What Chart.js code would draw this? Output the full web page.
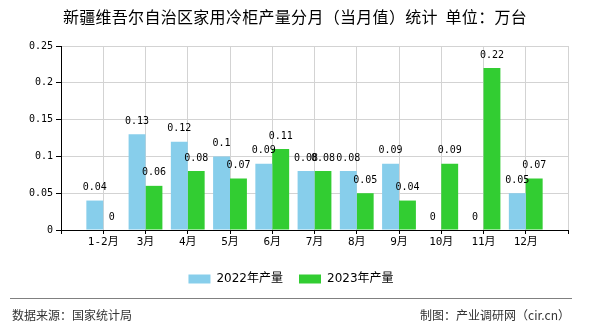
<!DOCTYPE html>
<html>
<head>
<meta charset="utf-8">
<script src="https://cdn.jsdelivr.net/npm/chart.js@4.4.0/dist/chart.umd.min.js"></script>
<style>
  body { margin: 0; background: #fff; }
  #wrap { position: relative; width: 590px; height: 330px; font-family: "Noto Sans CJK SC", sans-serif; }
  #title { position: absolute; left: 0; top: 5px; width: 590px; text-align: center; font-size: 16px; letter-spacing: 0.3px; line-height: 22px; color: #000; }
  #rule { position: absolute; left: 10px; top: 298px; width: 562px; border-top: 1px solid #808080; }
  .foot { position: absolute; top: 306px; font-size: 12px; line-height: 18px; color: #333; }
  #src { left: 12px; }
  #by { right: 20px; }
  canvas { position: absolute; left: 0; top: 0; }
</style>
</head>
<body>
<div id="wrap">
  <canvas id="myChart" width="590" height="330"></canvas>
  <div id="title">新疆维吾尔自治区家用冷柜产量分月（当月值）统计&nbsp;&nbsp;单位：万台</div>
  <div id="rule"></div>
  <div class="foot" id="src">数据来源：国家统计局</div>
  <div class="foot" id="by">制图：产业调研网（cir.cn）</div>
</div>
<script>
// данные
const months = ['1-2月', '3月', '4月', '5月', '6月', '7月', '8月', '9月', '10月', '11月', '12月'];
const values2022 = [0.04, 0.13, 0.12, 0.1, 0.09, 0.08, 0.08, 0.09, 0, 0, 0.05];
const values2023 = [0, 0.06, 0.08, 0.07, 0.11, 0.08, 0.05, 0.04, 0.09, 0.22, 0.07];
const yTicks = [0, 0.05, 0.1, 0.15, 0.2, 0.25];

// пустые места по краям оси
const labels = [''].concat(months, ['']);
const pad = arr => [null].concat(arr, [null]);

const monoFont = '"DejaVu Sans Mono", "Noto Sans CJK SC", monospace';

// подписи над столбиками
const barLabels = {
  id: 'barLabels',
  afterDatasetsDraw(chart) {
    const ctx = chart.ctx;
    ctx.save();
    ctx.font = '10px ' + monoFont;
    ctx.fillStyle = '#000';
    ctx.textAlign = 'center';
    ctx.textBaseline = 'middle';
    chart.data.datasets.forEach((ds, i) => {
      chart.getDatasetMeta(i).data.forEach((bar, j) => {
        const v = ds.data[j];
        if (v === null) return;
        ctx.fillText(String(v), bar.x, bar.y - 13);
      });
    });
    ctx.restore();
  }
};

const myChart = new Chart(document.getElementById('myChart'), {
  type: 'bar',
  data: {
    labels: labels,
    datasets: [{
      label: '2022年产量',
      data: pad(values2022),
      backgroundColor: '#87CEEB',
      categoryPercentage: 0.8,
      barPercentage: 1
    }, {
      label: '2023年产量',
      data: pad(values2023),
      backgroundColor: '#32CD32',
      categoryPercentage: 0.8,
      barPercentage: 1
    }]
  },
  options: {
    responsive: false,
    animation: false,
    layout: { padding: { top: 46, left: 0, right: 8, bottom: 35 } },
    plugins: {
      legend: {
        position: 'bottom',
        labels: {
          boxWidth: 22,
          boxHeight: 9,
          padding: 16,
          color: '#000',
          font: { size: 12, family: '"DejaVu Sans", "Noto Sans CJK SC", sans-serif' }
        }
      },
      tooltip: { enabled: false }
    },
    scales: {
      x: {
        offset: false,
        grid: { offset: false, color: '#d3d3d3', tickColor: '#000', tickLength: 4 },
        border: { color: '#000' },
        ticks: { color: '#000', padding: 2, maxRotation: 0, autoSkip: false, font: { size: 11, family: monoFont } },
        afterFit: s => { s.height = 27; }
      },
      y: {
        min: 0,
        max: 0.25,
        afterBuildTicks: s => { s.ticks = yTicks.map(v => ({ value: v })); },
        grid: { color: '#d3d3d3', tickColor: '#000', tickLength: 5 },
        border: { color: '#000' },
        ticks: { color: '#000', padding: 3, font: { size: 10, family: monoFont }, callback: v => String(+v.toFixed(2)) },
        afterFit: s => { s.width = 61; }
      },
      y2: {
        position: 'right',
        grid: { display: false },
        border: { display: false },
        ticks: { display: false },
        afterFit: s => { s.width = 14; }
      }
    }
  },
  plugins: [barLabels]
});
</script>
</body>
</html>
